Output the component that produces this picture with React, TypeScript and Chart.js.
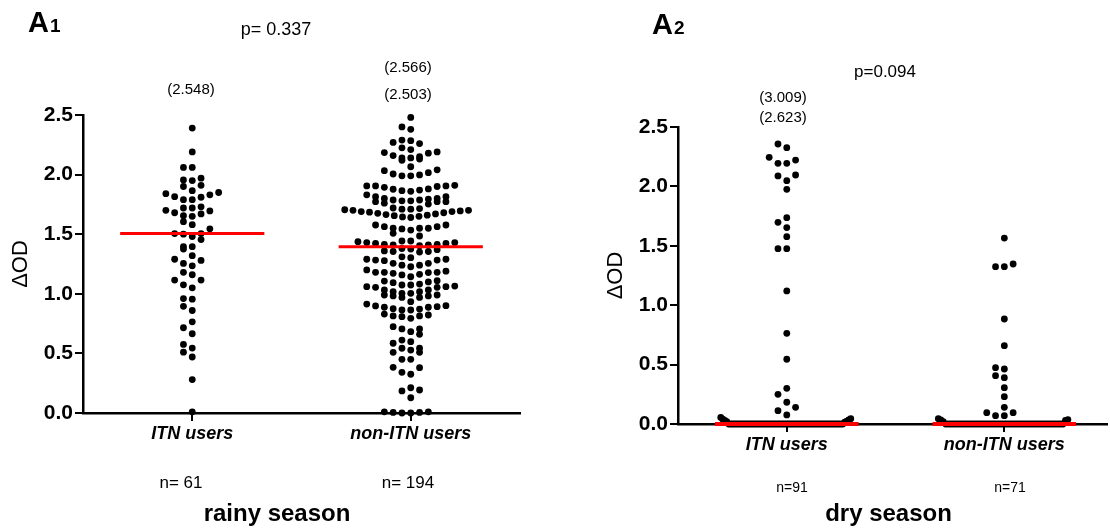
import React, { useEffect, useRef } from "react";
import { Chart, registerables } from "chart.js";

Chart.register(...registerables);
Chart.defaults.font.family = "'Liberation Sans', Arial, Helvetica, sans-serif";

// ---------- data ----------
const categories = ["ITN users", "non-ITN users"];
const yTickValues = [0, 0.5, 1.0, 1.5, 2.0, 2.5];

const rainyITN = [
  0.01, 0.28, 0.47, 0.51, 0.545, 0.575, 0.665, 0.715, 0.765, 0.86,
  0.895, 0.955, 0.96, 1.05, 1.075, 1.115, 1.115, 1.16, 1.18, 1.235,
  1.255, 1.28, 1.29, 1.32, 1.375, 1.395, 1.395, 1.455, 1.48, 1.5,
  1.505, 1.505, 1.545, 1.58, 1.605, 1.65, 1.655, 1.67, 1.68, 1.695,
  1.7, 1.72, 1.72, 1.73, 1.79, 1.79, 1.81, 1.815, 1.83, 1.84,
  1.85, 1.865, 1.9, 1.91, 1.95, 1.955, 1.97, 2.06, 2.06, 2.19,
  2.39,
];

const rainyNonITN = [
  2.48,
  2.4, 2.38,
  2.29, 2.27, 2.225, 2.26, 2.285,
  2.21, 2.19, 2.18, 2.185, 2.16, 2.15, 2.14, 2.14, 2.13, 2.12,
  2.066,
  2.04, 2.033, 2.016, 2.005, 1.997, 1.99, 1.99,
  1.91, 1.905, 1.905, 1.905, 1.9, 1.893, 1.88, 1.877, 1.87, 1.865, 1.86,
  1.83, 1.815, 1.815, 1.8, 1.8, 1.795, 1.787, 1.787, 1.78, 1.78, 1.773, 1.773, 1.773, 1.76, 1.753,
  1.72, 1.715, 1.71, 1.71, 1.705, 1.7, 1.7, 1.695, 1.69, 1.69,
  1.685, 1.68, 1.675, 1.67, 1.665, 1.66, 1.655, 1.65, 1.645, 1.64,
  1.577, 1.577, 1.563, 1.563, 1.55, 1.55, 1.55, 1.544, 1.535, 1.507, 1.485,
  1.443, 1.443, 1.437, 1.43, 1.43, 1.423, 1.423, 1.415, 1.415, 1.41, 1.41, 1.403,
  1.38, 1.375, 1.37, 1.36, 1.355, 1.35, 1.355,
  1.31, 1.303, 1.29, 1.29, 1.283, 1.283, 1.278, 1.256, 1.256, 1.24, 1.24, 1.227,
  1.2, 1.19, 1.18, 1.18, 1.18, 1.178, 1.172, 1.163, 1.158, 1.143,
  1.11, 1.107, 1.1, 1.093, 1.082, 1.074, 1.074, 1.065, 1.06, 1.06, 1.054,
  1.054, 1.032, 1.032, 1.018, 1.018, 1.004, 1.004, 0.99, 0.99, 0.982, 0.982, 0.97, 0.97,
  0.934, 0.914, 0.9, 0.898, 0.892, 0.887, 0.887, 0.875, 0.872, 0.864, 0.864,
  0.83, 0.822, 0.814, 0.814, 0.808, 0.794,
  0.724, 0.705, 0.705, 0.682, 0.66,
  0.612, 0.598, 0.585, 0.543, 0.543, 0.528, 0.509, 0.509,
  0.45, 0.45,
  0.383, 0.38, 0.341, 0.325,
  0.212, 0.193, 0.185, 0.128,
  0.01, 0.005, 0.0, 0.0, 0.005, 0.01,
];

const dryITN = [
  2.357, 2.326, 2.245, 2.222, 2.194, 2.194, 2.096, 2.088, 2.048, 1.975,
  1.737, 1.698, 1.653, 1.577, 1.476, 1.476, 1.12, 0.763, 0.545, 0.3,
  0.25, 0.183, 0.14, 0.112, 0.076, 0.055, 0.045, 0.04, 0.035, 0.03,
  0.025, 0.02, 0.015,
  0, 0, 0, 0, 0, 0, 0, 0, 0, 0,
  0, 0, 0, 0, 0, 0, 0, 0, 0, 0,
  0, 0, 0, 0, 0, 0, 0, 0, 0, 0,
  0, 0, 0, 0, 0, 0, 0, 0, 0, 0,
  0, 0, 0, 0, 0, 0, 0, 0, 0, 0,
  0, 0, 0, 0, 0, 0, 0, 0,
];

const dryNonITN = [
  1.565, 1.347, 1.324, 1.324, 0.884, 0.659, 0.474, 0.463, 0.407, 0.39,
  0.306, 0.23, 0.14, 0.095, 0.095, 0.07, 0.07, 0.045, 0.037, 0.034,
  0.03, 0.02,
  0, 0, 0, 0, 0, 0, 0, 0, 0, 0,
  0, 0, 0, 0, 0, 0, 0, 0, 0, 0,
  0, 0, 0, 0, 0, 0, 0, 0, 0, 0,
  0, 0, 0, 0, 0, 0, 0, 0, 0, 0,
  0, 0, 0, 0, 0, 0, 0, 0, 0,
];

const rainyMedians = [1.505, 1.395];
const dryMedians = [0, 0];

const rainyOffscale = [["(2.548)"], ["(2.566)", "(2.503)"]];
const dryOffscale = [["(3.009)", "(2.623)"], []];
const rainyCounts = ["n= 61", "n= 194"];
const dryCounts = ["n=91", "n=71"];
const rainyP = "p= 0.337";
const dryP = "p=0.094";
const rainySeason = "rainy season";
const drySeason = "dry season";

// ---------- layout ----------
const W = 555;
const H = 532;
const DOT_R = 3.4;
const STEP_PX = 8.8;
const BIN_PX = 8;
const MAX_HALF_PX = 66;
const MED_HALF = 0.33;
const FONT = "'Liberation Sans', Arial, Helvetica, sans-serif";

type Panel = {
  left: number;
  series: number[][];
  medians: number[];
  medianWidth: number;
  offscale: string[][];
  counts: string[];
  pText: string;
  season: string;
  sub: string;
  padLeft: number;
  padRight: number;
  top: number;
  bottom: number;
  xMax: number;
  letterX: number;
  letterY: number;
  pX: number;
  pY: number;
  pSize: number;
  offY: number[][];
  offX: number[];
  offSize: number;
  countX: number[];
  countY: number;
  countSize: number;
  seasonX: number;
  seasonY: number;
};

const panels: Panel[] = [
  {
    left: 0,
    series: [rainyITN, rainyNonITN],
    medians: rainyMedians,
    medianWidth: 3,
    offscale: rainyOffscale,
    counts: rainyCounts,
    pText: rainyP,
    season: rainySeason,
    sub: "1",
    padLeft: 0,
    padRight: 35,
    top: 115,
    bottom: 413,
    xMax: 2,
    letterX: 28,
    letterY: 32,
    pX: 276,
    pY: 35,
    pSize: 18,
    offY: [[94], [72, 99]],
    offX: [191, 408],
    offSize: 15,
    countX: [181, 408],
    countY: 488,
    countSize: 17,
    seasonX: 277,
    seasonY: 521,
  },
  {
    left: 555,
    series: [dryITN, dryNonITN],
    medians: dryMedians,
    medianWidth: 4,
    offscale: dryOffscale,
    counts: dryCounts,
    pText: dryP,
    season: drySeason,
    sub: "2",
    padLeft: 40,
    padRight: 1.6,
    top: 127,
    bottom: 424,
    xMax: 1.97,
    letterX: 97,
    letterY: 34,
    pX: 330,
    pY: 77,
    pSize: 17,
    offY: [[102, 122], []],
    offX: [228, 451],
    offSize: 15,
    countX: [237, 455],
    countY: 492,
    countSize: 14,
    seasonX: 333.5,
    seasonY: 521,
  },
];

function swarmX(values: number[], center: number, chart: any): number[] {
  const ys = chart.scales.y;
  const xs = chart.scales.x;
  const pxPerX = xs.getPixelForValue(1) - xs.getPixelForValue(0);
  const order = values.map((_, i) => i).sort((a, b) => values[a] - values[b]);
  const out: number[] = values.map(() => center);
  let i = 0;
  while (i < order.length) {
    const p0 = ys.getPixelForValue(values[order[i]]);
    const bin: number[] = [];
    while (i < order.length && p0 - ys.getPixelForValue(values[order[i]]) < BIN_PX) {
      bin.push(order[i]);
      i++;
    }
    const maxSlot = Math.ceil((bin.length - 1) / 2);
    const step = maxSlot > 0 ? Math.min(STEP_PX, MAX_HALF_PX / maxSlot) : STEP_PX;
    bin.forEach((id, k) => {
      const slot = k === 0 ? 0 : k % 2 === 1 ? -(k + 1) / 2 : k / 2;
      out[id] = center + (slot * step) / pxPerX;
    });
  }
  return out;
}

function makeTextPlugin(p: Panel) {
  return {
    id: "panelText" + p.sub,
    afterDraw(chart: any) {
      const ctx = chart.ctx as CanvasRenderingContext2D;
      ctx.save();
      ctx.fillStyle = "#000";
      ctx.textBaseline = "alphabetic";
      // panel letter
      ctx.textAlign = "left";
      ctx.font = `bold 29px ${FONT}`;
      ctx.fillText("A", p.letterX, p.letterY);
      const aw = ctx.measureText("A").width;
      ctx.font = `bold 19px ${FONT}`;
      ctx.fillText(p.sub, p.letterX + aw + 1, p.letterY);
      // p value
      ctx.textAlign = "center";
      ctx.font = `${p.pSize}px ${FONT}`;
      ctx.fillText(p.pText, p.pX, p.pY);
      // off-scale values
      ctx.font = `${p.offSize}px ${FONT}`;
      p.offscale.forEach((list, ci) => {
        list.forEach((t, j) => ctx.fillText(t, p.offX[ci], p.offY[ci][j]));
      });
      // counts
      ctx.font = `${p.countSize}px ${FONT}`;
      p.counts.forEach((t, ci) => ctx.fillText(t, p.countX[ci], p.countY));
      // season
      ctx.font = `bold 24px ${FONT}`;
      ctx.fillText(p.season, p.seasonX, p.seasonY);
      ctx.restore();
    },
  };
}

function buildChart(canvas: HTMLCanvasElement, p: Panel) {
  const axisColor = "#000";
  const medianSets = p.medians.map((m, ci) => ({
    label: "median " + categories[ci],
    data: [
      { x: ci + 0.5 - MED_HALF, y: m },
      { x: ci + 0.5 + MED_HALF, y: m },
    ],
    showLine: true,
    borderColor: "#ff0000",
    backgroundColor: "#ff0000",
    borderWidth: p.medianWidth,
    pointRadius: 0,
    order: 0,
    clip: false,
  }));
  const pointSets = p.series.map((vals, ci) => ({
    label: categories[ci],
    data: vals.map((v) => ({ x: ci + 0.5, y: v })),
    pointRadius: DOT_R,
    pointHoverRadius: DOT_R,
    backgroundColor: "#000",
    borderWidth: 0,
    order: 1,
    clip: false,
  }));
  const chart = new Chart(canvas, {
    type: "scatter",
    data: { datasets: [...medianSets, ...pointSets] as any },
    options: {
      responsive: false,
      animation: false,
      events: [],
      layout: { padding: { left: p.padLeft, top: p.top, right: p.padRight, bottom: 0 } },
      plugins: {
        legend: { display: false },
        tooltip: { enabled: false },
        title: { display: false },
      },
      scales: {
        x: {
          type: "linear",
          min: 0,
          max: p.xMax,
          afterFit: (s: any) => {
            s.height = H - p.bottom;
          },
          afterBuildTicks: (s: any) => {
            s.ticks = categories.map((_, i) => ({ value: i + 0.5 }));
          },
          ticks: {
            callback: (_v: any, i: number) => categories[i],
            font: { size: 18, weight: "bold", style: "italic" },
            color: "#000",
            padding: 2,
            maxRotation: 0,
            autoSkip: false,
          },
          grid: {
            display: true,
            drawOnChartArea: false,
            drawTicks: true,
            tickLength: 8,
            color: axisColor,
            lineWidth: 2,
          },
          border: { display: true, color: axisColor, width: 2.5 },
        },
        y: {
          type: "linear",
          min: 0,
          max: 2.5,
          afterFit: (s: any) => {
            s.width = 83;
          },
          afterBuildTicks: (s: any) => {
            s.ticks = yTickValues.map((v) => ({ value: v }));
          },
          ticks: {
            callback: (v: any) => Number(v).toFixed(1),
            font: { size: 21, weight: "bold" },
            color: "#000",
            padding: 2,
          },
          grid: {
            display: true,
            drawOnChartArea: false,
            drawTicks: true,
            tickLength: 8,
            color: axisColor,
            lineWidth: 2,
          },
          border: { display: true, color: axisColor, width: 2.5 },
          title: {
            display: true,
            text: "ΔOD",
            font: { size: 22 },
            color: "#000",
            padding: { top: 8, bottom: 0 },
          },
        },
      },
    } as any,
    plugins: [makeTextPlugin(p)],
  });

  // arrange dots as a scatter-dot (beeswarm) plot using the chart's own scales
  p.series.forEach((vals, ci) => {
    const xs = swarmX(vals, ci + 0.5, chart);
    (chart.data.datasets[p.medians.length + ci] as any).data = vals.map((v, i) => ({ x: xs[i], y: v }));
  });
  chart.update();
  return chart;
}

export default function App() {
  const ref1 = useRef<HTMLCanvasElement>(null);
  const ref2 = useRef<HTMLCanvasElement>(null);

  useEffect(() => {
    const charts: Chart[] = [];
    if (ref1.current) charts.push(buildChart(ref1.current, panels[0]));
    if (ref2.current) charts.push(buildChart(ref2.current, panels[1]));
    return () => charts.forEach((c) => c.destroy());
  }, []);

  return (
    <div
      style={{
        position: "fixed",
        left: 0,
        top: 0,
        width: 1110,
        height: 532,
        background: "#fff",
        overflow: "hidden",
      }}
    >
      <canvas
        ref={ref1}
        width={W}
        height={H}
        style={{ position: "absolute", left: panels[0].left, top: 0, width: W, height: H, display: "block" }}
      />
      <canvas
        ref={ref2}
        width={W}
        height={H}
        style={{ position: "absolute", left: panels[1].left, top: 0, width: W, height: H, display: "block" }}
      />
    </div>
  );
}
